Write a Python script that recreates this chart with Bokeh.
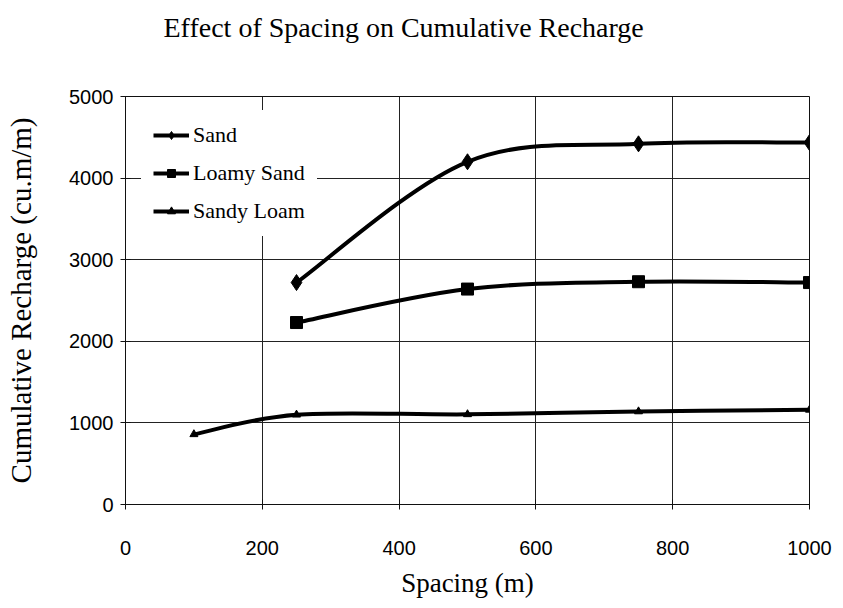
import numpy as np
from bokeh.plotting import figure
from bokeh.models import Range1d, Legend, LegendItem, FixedTicker, Title
from bokeh.embed import file_html
from bokeh.resources import INLINE

title_text = "Effect of Spacing on Cumulative Recharge"
x_label = "Spacing (m)"
y_label = "Cumulative Recharge (cu.m/m)"
x_ticks = [0, 200, 400, 600, 800, 1000]
y_ticks = [0, 1000, 2000, 3000, 4000, 5000]

series_names = ["Sand", "Loamy Sand", "Sandy Loam"]
sand_x = [250, 500, 750, 1000]
sand_y = [2720, 4200, 4420, 4435]
loamy_sand_x = [250, 500, 750, 1000]
loamy_sand_y = [2230, 2640, 2730, 2720]
sandy_loam_x = [100, 250, 500, 750, 1000]
sandy_loam_y = [860, 1100, 1105, 1140, 1160]

SERIF = "Liberation Serif"
SANS = "Liberation Sans"


def smooth_segments(xs, ys):
    """Bezier control points (Catmull-Rom style, like a spreadsheet's smoothed line)."""
    P = np.column_stack([xs, ys]).astype(float)
    n = len(P)
    out = {k: [] for k in ("x0", "y0", "x1", "y1", "cx0", "cy0", "cx1", "cy1")}
    for i in range(n - 1):
        p0 = P[i - 1] if i > 0 else P[i]
        p1 = P[i]
        p2 = P[i + 1]
        p3 = P[i + 2] if i + 2 < n else P[i + 1]
        c0 = p1 + (p2 - p0) / 6.0
        c1 = p2 - (p3 - p1) / 6.0
        out["x0"].append(p1[0]); out["y0"].append(p1[1])
        out["x1"].append(p2[0]); out["y1"].append(p2[1])
        out["cx0"].append(c0[0]); out["cy0"].append(c0[1])
        out["cx1"].append(c1[0]); out["cy1"].append(c1[1])
    return out


p = figure(width=835, height=600, output_backend="svg", toolbar_location=None,
           x_range=Range1d(0, 1000), y_range=Range1d(0, 5000),
           min_border_left=125, min_border_right=26,
           min_border_top=96, min_border_bottom=96)

# spacer between the title and the plot frame (blank text)
spacer = Title(text=" ", text_font=SERIF, text_font_size="28px", standoff=14)
p.add_layout(spacer, "above")
main_title = Title(text=title_text, text_font=SERIF, text_font_size="28px",
                   text_font_style="normal", text_color="black",
                   align="left", offset=38, standoff=14)
p.add_layout(main_title, "above")

p.background_fill_color = "white"
p.border_fill_color = "white"
p.outline_line_color = "#111111"
p.outline_line_width = 1

for ax, ticks in ((p.xaxis, x_ticks), (p.yaxis, y_ticks)):
    ax.ticker = FixedTicker(ticks=ticks)
    ax.major_tick_in = 5
    ax.major_tick_out = 5
    ax.minor_tick_line_color = None
    ax.axis_line_color = "#111111"
    ax.major_tick_line_color = "#111111"
    ax.major_label_text_font = SANS
    ax.major_label_text_font_size = "20px"
    ax.major_label_text_color = "black"
    ax.axis_label_text_font = SERIF
    ax.axis_label_text_font_style = "normal"
    ax.axis_label_text_color = "black"

p.xaxis.axis_label = x_label
p.yaxis.axis_label = y_label
p.xaxis.axis_label_text_font_size = "27px"
p.yaxis.axis_label_text_font_size = "29px"
p.xaxis.major_label_standoff = 31
p.xaxis.axis_label_standoff = 10
p.yaxis.major_label_standoff = 7
p.yaxis.axis_label_standoff = 29

p.xgrid.ticker = FixedTicker(ticks=x_ticks)
p.ygrid.ticker = FixedTicker(ticks=y_ticks)
for g in (p.xgrid, p.ygrid):
    g.grid_line_color = "#222222"
    g.grid_line_width = 1

items = []
specs = [
    (series_names[0], sand_x, sand_y, "diamond", 16),
    (series_names[1], loamy_sand_x, loamy_sand_y, "square", 12),
    (series_names[2], sandy_loam_x, sandy_loam_y, "triangle", 8),
]
for name, xs, ys, marker, size in specs:
    seg = smooth_segments(xs, ys)
    br = p.bezier(x0=seg["x0"], y0=seg["y0"], x1=seg["x1"], y1=seg["y1"],
                  cx0=seg["cx0"], cy0=seg["cy0"], cx1=seg["cx1"], cy1=seg["cy1"],
                  line_color="black", line_width=4)
    sr = p.scatter(xs, ys, marker=marker, size=size, fill_color="black",
                   line_color="black")
    items.append(LegendItem(label=name, renderers=[br, sr]))

legend = Legend(items=items, location=(16, 268))
legend.label_text_font = SERIF
legend.label_text_font_size = "22px"
legend.label_text_color = "black"
legend.glyph_width = 36
legend.glyph_height = 20
legend.label_height = 20
legend.spacing = 12
legend.label_standoff = 4
legend.padding = 12
legend.margin = 0
legend.border_line_alpha = 0
legend.background_fill_color = "white"
legend.background_fill_alpha = 1
p.add_layout(legend, "center")

open("out.html", "w").write(file_html(p, INLINE))
